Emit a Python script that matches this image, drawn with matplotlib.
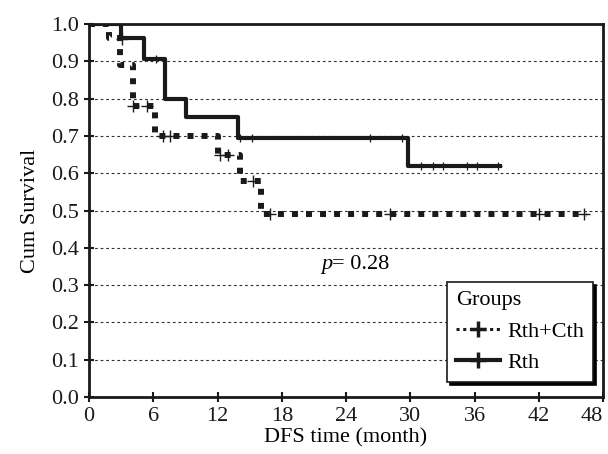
import matplotlib
matplotlib.use('Agg')
import matplotlib.pyplot as plt
from matplotlib.lines import Line2D

plt.rcParams['font.family'] = ['Liberation Serif', 'DejaVu Serif']

# Kaplan-Meier steps
combo_t = [0, 1.9, 2.9, 4.1, 6.2, 12.0, 14.1, 16.1, 46.5]
combo_s = [1.0, 0.963, 0.89, 0.78, 0.70, 0.65, 0.58, 0.49, 0.49]
combo_cens_t = [3.05, 4.1, 5.4, 6.9, 7.6, 12.2, 13.0, 15.3, 16.9, 28.1, 42.0, 46.2]
combo_cens_s = [0.96, 0.78, 0.78, 0.70, 0.70, 0.65, 0.65, 0.58, 0.49, 0.49, 0.49, 0.49]

rth_t = [0, 2.95, 5.1, 7.1, 9.05, 13.9, 29.8, 38.4]
rth_s = [1.0, 0.963, 0.905, 0.80, 0.75, 0.695, 0.62, 0.62]
rth_cens_t = [6.3, 14.1, 15.2, 26.2, 29.2, 31.0, 32.1, 33.1, 35.3, 36.2, 38.2]
rth_cens_s = [0.905, 0.695, 0.695, 0.695, 0.695, 0.62, 0.62, 0.62, 0.62, 0.62, 0.62]

xticks = [0, 6, 12, 18, 24, 30, 36, 42, 48]
yticks = [0.0, 0.1, 0.2, 0.3, 0.4, 0.5, 0.6, 0.7, 0.8, 0.9, 1.0]

fig = plt.figure(figsize=(6.08, 4.54), dpi=100)
ax = fig.add_axes([0.1464, 0.1256, 0.8454, 0.8214])

for y in yticks[1:-1]:
    ax.axhline(y, color='#333333', lw=0.8, ls=(0, (2.5, 2.5)), zorder=1)

ax.step(combo_t, combo_s, where='post', color='#1a1a1a', lw=4.3,
        ls=(0, (1, 1.35)), dash_capstyle='butt', zorder=3)
ax.plot(combo_cens_t, combo_cens_s, ls='none', marker='+', ms=8, mew=1.0,
        color='#1a1a1a', zorder=4)

ax.step(rth_t, rth_s, where='post', color='#1a1a1a', lw=3.0, zorder=3)
ax.plot(rth_cens_t, rth_cens_s, ls='none', marker='+', ms=6, mew=0.9,
        color='#1a1a1a', zorder=4)

ax.text(22.7, 0.355, 'p', fontsize=16, style='italic', ha='right', va='center')
ax.text(22.7, 0.355, '= 0.28', fontsize=16, ha='left', va='center')

ax.set_xlim(0, 48)
ax.set_ylim(0, 1.0)
ax.set_xticks(xticks)
ax.set_yticks(yticks)
ax.set_yticklabels(['%.1f' % v for v in yticks])
ax.tick_params(direction='inout', length=7, width=1.5, labelsize=16, colors='#1a1a1a')
ax.get_xticklabels()[-1].set_horizontalalignment('right')
for sp in ax.spines.values():
    sp.set_linewidth(2.0)
    sp.set_color('#1a1a1a')
ax.set_xlabel('DFS time (month)', fontsize=16, labelpad=2)
ax.set_ylabel('Cum Survival', fontsize=16, labelpad=8)

handles = [
    Line2D([], [], color='#1a1a1a', lw=2.2, ls=(0, (1, 1.2)), marker='+', ms=12, mew=2.5),
    Line2D([], [], color='#1a1a1a', lw=3.0, marker='+', ms=12, mew=2.5),
]
leg = ax.legend(handles, ['Rth+Cth', 'Rth'], title='Groups', loc='lower right',
                bbox_to_anchor=(0.98, 0.04), fontsize=16, title_fontsize=16,
                frameon=True, fancybox=False, shadow={'color': 'black', 'alpha': 1},
                edgecolor='#1a1a1a', handlelength=2.0, handletextpad=0.3,
                borderpad=0.4, labelspacing=0.5, borderaxespad=0)
leg._legend_box.align = 'left'
leg.get_frame().set_linewidth(1.2)

plt.savefig('out.png', dpi=100)
